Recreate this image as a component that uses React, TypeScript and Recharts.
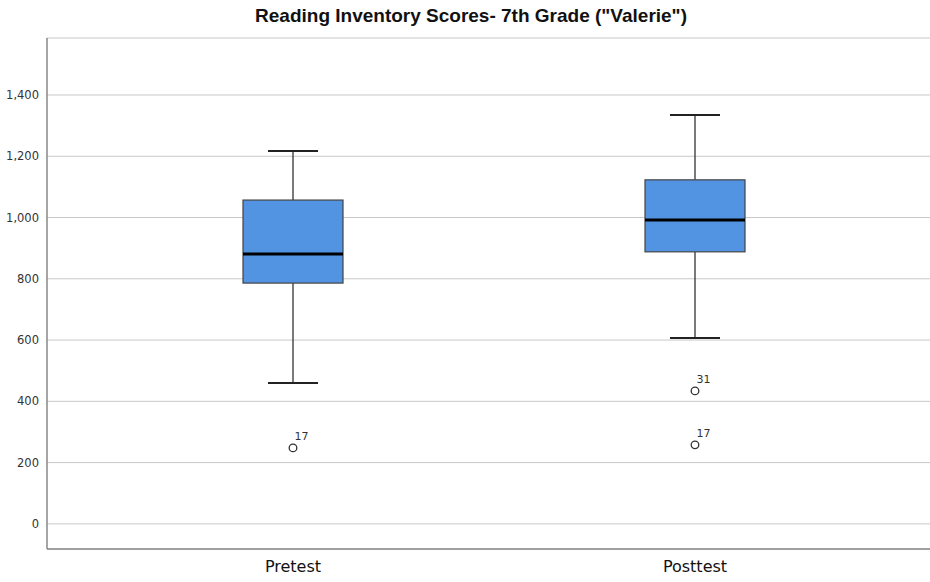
import { ComposedChart, Bar, Scatter, XAxis, YAxis, CartesianGrid, LabelList } from "recharts";

const groups = ["Pretest", "Posttest"];
const mins = [460, 607];
const q1s = [786, 888];
const medians = [881, 992];
const q3s = [1057, 1123];
const maxs = [1217, 1335];

const outlierGroups = ["Pretest", "Posttest", "Posttest"];
const outlierValues = [248, 434, 258];
const outlierIds = ["17", "31", "17"];

const yTicks = [0, 200, 400, 600, 800, 1000, 1200, 1400];

const boxData = groups.map((name, i) => ({
  name,
  range: [mins[i], maxs[i]],
  min: mins[i],
  q1: q1s[i],
  median: medians[i],
  q3: q3s[i],
  max: maxs[i],
}));

const outlierData = outlierGroups.map((name, i) => ({
  name,
  value: outlierValues[i],
  id: outlierIds[i],
}));

const BoxShape = (props: any) => {
  const { x, y, width, height, payload } = props;
  const { min, max, q1, median, q3 } = payload;
  const k = height / (max - min);
  const py = (v: number) => y + (max - v) * k;
  const cx = x + width / 2;
  const capW = width / 2;
  return (
    <g>
      <line x1={cx} x2={cx} y1={py(max)} y2={py(q3)} stroke="#333" strokeWidth={1.3} />
      <line x1={cx} x2={cx} y1={py(q1)} y2={py(min)} stroke="#333" strokeWidth={1.3} />
      <line x1={cx - capW / 2} x2={cx + capW / 2} y1={py(max)} y2={py(max)} stroke="#222" strokeWidth={2} />
      <line x1={cx - capW / 2} x2={cx + capW / 2} y1={py(min)} y2={py(min)} stroke="#222" strokeWidth={2} />
      <rect x={x} y={py(q3)} width={width} height={py(q1) - py(q3)} fill="#5294e2" stroke="#444" strokeWidth={1.2} />
      <line x1={x} x2={x + width} y1={py(median)} y2={py(median)} stroke="#000" strokeWidth={3} />
    </g>
  );
};

const OutlierLabel = (props: any) => {
  const { x, y, value } = props;
  return (
    <text x={x + 6} y={y - 3} fontSize={11} fill="#333" fontFamily="DejaVu Sans">
      {value}
    </text>
  );
};

export default function App() {
  return (
    <div style={{ position: "absolute", left: 0, top: 0, width: 930, height: 582, background: "#fff" }}>
      <div
        style={{
          position: "absolute",
          top: 5,
          left: 0,
          width: 942,
          textAlign: "center",
          fontFamily: "Liberation Sans",
          fontWeight: "bold",
          fontSize: 19,
          color: "#111",
        }}
      >
        Reading Inventory Scores- 7th Grade ("Valerie")
      </div>
      <ComposedChart
        width={930}
        height={582}
        data={boxData}
        margin={{ top: 38, right: 0, bottom: 3, left: 0 }}
      >
        <CartesianGrid horizontal vertical={false} stroke="#c8c8c8" />
        <XAxis
          dataKey="name"
          type="category"
          height={30}
          allowDuplicatedCategory={false}
          padding={{ left: 45, right: 34 }}
          tickLine={false}
          axisLine={{ stroke: "#888", strokeWidth: 1.5 }}
          tick={{ fontSize: 16, fill: "#111", fontFamily: "DejaVu Sans" }}
          tickMargin={6}
        />
        <YAxis
          width={47}
          domain={[-82, 1586]}
          ticks={yTicks}
          tickLine={false}
          axisLine={{ stroke: "#888", strokeWidth: 1.5 }}
          tick={{ fontSize: 11.5, fill: "#333", fontFamily: "DejaVu Sans" }}
          tickFormatter={(v: number) => v.toLocaleString("en-US")}
          tickMargin={2}
        />
        <Bar dataKey="range" barSize={100} shape={BoxShape} isAnimationActive={false} />
        <Scatter
          data={outlierData}
          dataKey="value"
          fill="#fff"
          stroke="#333"
          strokeWidth={1.3}
          shape={(p: any) => <circle cx={p.cx} cy={p.cy} r={3.8} fill="#fff" stroke="#333" strokeWidth={1.3} />}
          isAnimationActive={false}
        >
          <LabelList dataKey="id" content={OutlierLabel} />
        </Scatter>
      </ComposedChart>
    </div>
  );
}
